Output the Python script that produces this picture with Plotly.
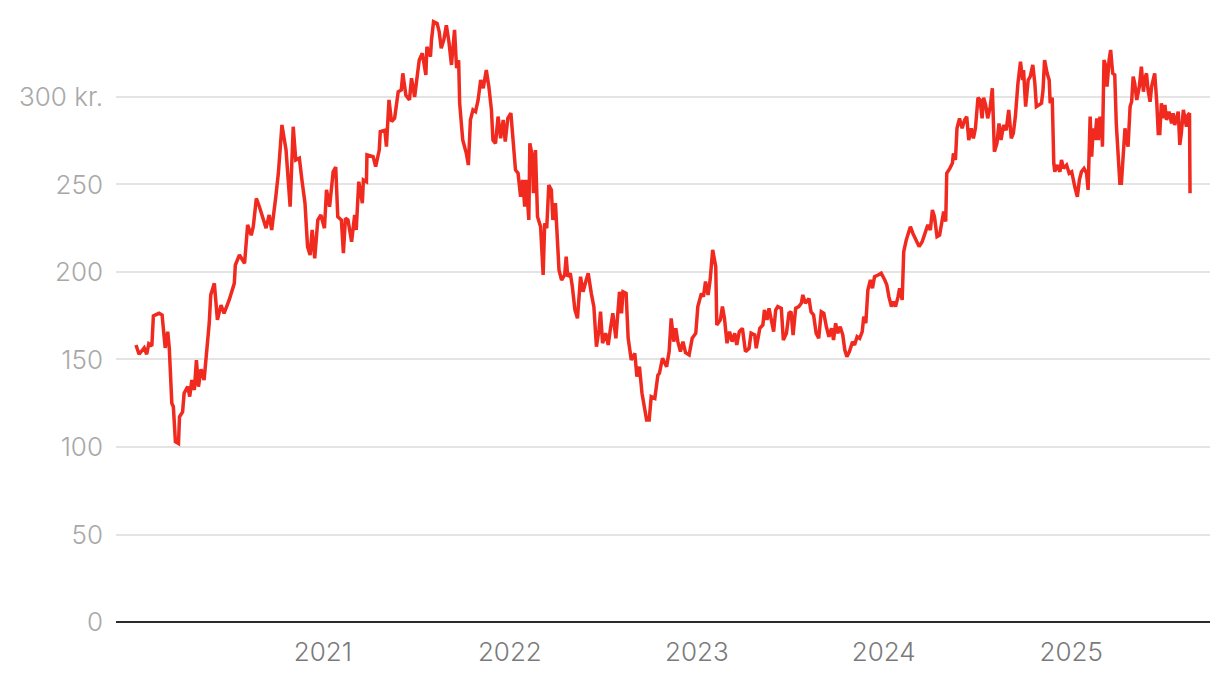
import plotly.graph_objects as go

# ---- data ----
dates_2020 = ["2020-01-02","2020-01-08","2020-01-18","2020-01-23","2020-01-27","2020-02-02","2020-02-05","2020-02-16",
    "2020-02-22","2020-02-28","2020-03-04","2020-03-07","2020-03-12","2020-03-15","2020-03-19","2020-03-25","2020-03-27",
    "2020-04-02","2020-04-05","2020-04-12","2020-04-16","2020-04-20","2020-04-25","2020-04-29","2020-05-03","2020-05-08",
    "2020-05-14","2020-05-24","2020-05-27","2020-06-03","2020-06-09","2020-06-16","2020-06-22","2020-07-02","2020-07-12",
    "2020-07-14","2020-07-22","2020-08-01","2020-08-07","2020-08-14","2020-08-18","2020-08-24","2020-08-30","2020-09-05",
    "2020-09-12","2020-09-18","2020-09-23","2020-10-01","2020-10-06","2020-10-13","2020-10-21","2020-10-29","2020-11-04",
    "2020-11-09","2020-11-16","2020-11-21","2020-11-27","2020-12-02","2020-12-07","2020-12-11","2020-12-16","2020-12-22",
    "2020-12-28"]
values_2020 = [158.3,153,156.6,153,159,157.7,174.9,176.4,175.4,156.6,165.9,156.6,125,123,103,102,117.3,120,130.7,134.5,
    128.8,138.3,132.6,149.7,134.5,144.4,138.3,170.7,186.9,193.5,172.6,181.1,176.4,184,193.5,204,209.7,205,226.9,221,225.9,
    242,237.3,231.6,225,232.6,224,243,256.4,284,269.7,237.3,283,264,265,252.6,239.3,214.5,209.7,224,207.8,229.7,232.6]

dates_2021 = ["2021-01-04","2021-01-08","2021-01-14","2021-01-21","2021-01-26","2021-01-30","2021-02-06","2021-02-10",
    "2021-02-14","2021-02-19","2021-02-26","2021-03-04","2021-03-07","2021-03-12","2021-03-19","2021-03-21","2021-03-27",
    "2021-03-28","2021-04-09","2021-04-14","2021-04-21","2021-04-23","2021-05-02","2021-05-05","2021-05-10","2021-05-15",
    "2021-05-21","2021-05-28","2021-06-03","2021-06-06","2021-06-12","2021-06-19","2021-06-23","2021-06-29","2021-07-08",
    "2021-07-14","2021-07-21","2021-07-23","2021-07-30","2021-08-01","2021-08-05","2021-08-12","2021-08-16","2021-08-20",
    "2021-08-25","2021-08-30","2021-09-04","2021-09-09","2021-09-15","2021-09-19","2021-09-23","2021-09-25","2021-10-01",
    "2021-10-08","2021-10-12","2021-10-16","2021-10-21","2021-10-26","2021-10-31","2021-11-05","2021-11-10","2021-11-16",
    "2021-11-21","2021-11-26","2021-11-29","2021-12-04","2021-12-09","2021-12-14","2021-12-19","2021-12-23","2021-12-28"]
values_2021 = [225,246.9,237.3,257.3,260,231.6,229.7,210.7,230.7,229.7,217.3,232.6,224,251.6,239.3,252.6,251.6,266.9,
    265.9,260.2,269.7,280.2,281,271.6,298.3,285.9,287.8,303,304,313.5,301,298.3,310.7,300,321,325,312.6,328.7,323,332.6,
    343,342,337.3,327.8,332.6,341,331.6,318.3,338.3,316.4,321,296.4,275.4,267.8,261.1,286.9,292.6,291.6,298.3,309.7,305,
    315.4,305.9,292.6,275.4,273.5,288.8,276.4,286.9,274.5,287.8]

dates_2022 = ["2022-01-03","2022-01-07","2022-01-12","2022-01-17","2022-01-22","2022-01-26","2022-01-30","2022-02-02",
    "2022-02-07","2022-02-09","2022-02-14","2022-02-16","2022-02-20","2022-02-24","2022-03-02","2022-03-07","2022-03-10",
    "2022-03-14","2022-03-18","2022-03-23","2022-03-26","2022-03-31","2022-04-03","2022-04-07","2022-04-12","2022-04-18",
    "2022-04-21","2022-04-24","2022-04-29","2022-05-03","2022-05-08","2022-05-13","2022-05-19","2022-05-24","2022-05-30",
    "2022-06-03","2022-06-09","2022-06-14","2022-06-19","2022-06-24","2022-06-27","2022-07-01","2022-07-07","2022-07-12",
    "2022-07-16","2022-07-21","2022-07-27","2022-07-31","2022-08-03","2022-08-07","2022-08-10","2022-08-16","2022-08-20",
    "2022-08-26","2022-09-02","2022-09-06","2022-09-11","2022-09-16","2022-09-21","2022-09-25","2022-09-30","2022-10-04",
    "2022-10-11","2022-10-17","2022-10-20","2022-10-26","2022-11-03","2022-11-08","2022-11-12","2022-11-17","2022-11-21",
    "2022-11-25","2022-11-30","2022-12-05","2022-12-10","2022-12-17","2022-12-23","2022-12-30"]
values_2022 = [290.7,276.4,258.3,256.4,243,252.6,237.3,252.6,229.7,273.5,265.9,245,269.7,231.6,225.9,198.3,227.8,225,
    249.7,246.9,229.7,239.3,224,201,195.4,198.3,208.8,197.3,199.3,191.6,178.3,173.5,197.3,188.7,195.4,199.3,187.8,180.2,
    157.3,166.9,177.3,159.3,165,158.3,166.9,176.4,162.1,180.2,188.7,176.4,188.7,187.8,162.1,149.7,153.5,140.2,145.9,130.7,
    121.1,115.4,115.4,128.8,127.8,141,142.1,150.7,145.9,154.5,173.5,160.2,167.8,160.2,154.5,160.2,153.9,152.6,162.1,165]

dates_2023 = ["2023-01-03","2023-01-10","2023-01-14","2023-01-18","2023-01-23","2023-01-27","2023-02-01","2023-02-07",
    "2023-02-09","2023-02-16","2023-02-20","2023-02-24","2023-03-01","2023-03-06","2023-03-11","2023-03-16","2023-03-20",
    "2023-03-25","2023-03-31","2023-04-06","2023-04-13","2023-04-17","2023-04-24","2023-04-27","2023-05-04","2023-05-10",
    "2023-05-13","2023-05-18","2023-05-22","2023-05-26","2023-05-31","2023-06-04","2023-06-08","2023-06-15","2023-06-19",
    "2023-06-25","2023-06-30","2023-07-04","2023-07-08","2023-07-13","2023-07-19","2023-07-24","2023-07-27","2023-08-01",
    "2023-08-08","2023-08-12","2023-08-17","2023-08-22","2023-08-27","2023-09-01","2023-09-06","2023-09-11","2023-09-16",
    "2023-09-21","2023-09-25","2023-09-29","2023-10-03","2023-10-08","2023-10-13","2023-10-17","2023-10-21","2023-10-26",
    "2023-11-01","2023-11-05","2023-11-10","2023-11-15","2023-11-20","2023-11-23","2023-11-27","2023-12-01","2023-12-06",
    "2023-12-10","2023-12-14","2023-12-21","2023-12-27"]
values_2023 = [180.2,187.8,185.9,194.5,186.9,195.4,212.6,203,169.7,172.6,180.2,173.5,159.3,165.9,160.2,165,158.3,165.9,
    167.8,154.5,156.4,165,164,156.4,167.8,169.7,178.3,172.6,179.2,173.5,165.9,178.3,180.2,179.2,161.1,165,176.4,177.3,164,
    179.2,180.2,182.1,186.9,182.1,184.9,177.3,175.4,165,162.1,177.3,176.4,168.7,163,167.8,161.1,170.7,165,168.7,164,155.4,
    151.6,154.5,160.2,158.3,163,162.1,165.9,174.5,170.7,189.7,195.4,190.7,197.3,198.3,199.3]

dates_2024 = ["2024-01-03","2024-01-07","2024-01-11","2024-01-16","2024-01-20","2024-01-24","2024-01-29","2024-02-01",
    "2024-02-06","2024-02-09","2024-02-14","2024-02-17","2024-02-22","2024-02-27","2024-03-04","2024-03-10","2024-03-16",
    "2024-03-21","2024-03-27","2024-04-01","2024-04-05","2024-04-09","2024-04-14","2024-04-19","2024-04-24","2024-04-27",
    "2024-05-01","2024-05-03","2024-05-09","2024-05-14","2024-05-16","2024-05-20","2024-05-23","2024-05-28","2024-06-02",
    "2024-06-07","2024-06-11","2024-06-15","2024-06-20","2024-06-24","2024-06-28","2024-07-03","2024-07-07","2024-07-11",
    "2024-07-14","2024-07-18","2024-07-22","2024-07-27","2024-07-31","2024-08-04","2024-08-09","2024-08-13","2024-08-17",
    "2024-08-22","2024-08-27","2024-09-01","2024-09-06","2024-09-10","2024-09-14","2024-09-19","2024-09-24","2024-09-28",
    "2024-09-30","2024-10-04","2024-10-09","2024-10-13","2024-10-18","2024-10-22","2024-10-25","2024-10-30","2024-11-04",
    "2024-11-07","2024-11-10","2024-11-15","2024-11-19","2024-11-21","2024-11-25","2024-11-28","2024-11-30","2024-12-04",
    "2024-12-10","2024-12-13","2024-12-17","2024-12-23","2024-12-28"]
values_2024 = [195.4,192.6,185.9,180.2,183,180.2,185.9,190.7,184,211.6,218.3,221.1,225.9,222,217.8,214.5,217.3,222.1,
    226.9,224,235.4,231.6,220.2,221.1,228.8,234.5,228.8,256.4,259.2,262.1,267.8,264,282.1,287.8,282.1,286.9,288.8,275.4,
    282.1,276.4,282.1,299.6,298.3,287.8,299.6,295.4,287.8,294.5,305,268.7,273.5,284.9,275.4,284,281,292.6,276.4,279.2,
    288.8,307.8,320.2,309.7,315.4,294.5,309.7,311.6,318.3,307.8,294.5,295.4,296.4,304,321.1,313.5,309.7,296.4,299.6,262.1,
    257.3,261.1,257.3,264,259.2,261.1,256.4]

dates_2025 = ["2025-01-02","2025-01-05","2025-01-08","2025-01-13","2025-01-17","2025-01-21","2025-01-26","2025-01-31",
    "2025-02-03","2025-02-07","2025-02-10","2025-02-13","2025-02-16","2025-02-20","2025-02-23","2025-02-26","2025-03-01",
    "2025-03-03","2025-03-06","2025-03-10","2025-03-12","2025-03-16","2025-03-19","2025-03-23","2025-03-27","2025-03-30",
    "2025-04-03","2025-04-06","2025-04-09","2025-04-12","2025-04-16","2025-04-19","2025-04-22","2025-04-26","2025-04-29",
    "2025-05-02","2025-05-05","2025-05-09","2025-05-14","2025-05-18","2025-05-22","2025-05-25","2025-05-28","2025-05-31",
    "2025-06-04","2025-06-07","2025-06-11","2025-06-13","2025-06-17","2025-06-20","2025-06-23","2025-06-26","2025-06-30",
    "2025-07-03","2025-07-06","2025-07-11","2025-07-16","2025-07-19","2025-07-22","2025-07-26","2025-07-29","2025-08-01",
    "2025-08-04","2025-08-08","2025-08-11","2025-08-14","2025-08-17","2025-08-20","2025-08-21"]
values_2025 = [257.3,252.6,248.7,243,252.6,257.3,259.2,256.4,246.9,288.8,265.9,282.1,275.4,287.8,275.4,287.8,287.8,271.6,
    321.1,317.3,305.9,321.1,326.9,313.5,312.6,284.9,265.9,250.7,250.7,264,282.1,275.4,271.6,294.5,297.3,311.6,307.8,298.3,
    305.9,317.3,303,310.7,313.5,304,297.3,305.9,311.6,313.5,297.3,279.2,279.2,296.4,287.8,295.4,286.9,291.6,284.9,290.7,
    284,289.7,291.6,272.6,279.2,292.6,286.9,283,289.7,290.7,245]

dates = dates_2020 + dates_2021 + dates_2022 + dates_2023 + dates_2024 + dates_2025
values = values_2020 + values_2021 + values_2022 + values_2023 + values_2024 + values_2025

y_tickvals = [0, 50, 100, 150, 200, 250, 300]
y_ticktext = ["0", "50", "100", "150", "200", "250", "300 kr."]
x_tickvals = ["2021-01-01", "2022-01-01", "2023-01-01", "2024-01-01", "2025-01-01"]
x_ticktext = ["2021", "2022", "2023", "2024", "2025"]

fig = go.Figure()
fig.add_trace(go.Scatter(x=dates, y=values, mode="lines",
                         line=dict(color="#f12a20", width=3.5), hoverinfo="skip"))

# the page body adds an 8px margin, so the figure is sized/margined to compensate
fig.update_layout(
    width=1212, height=670,
    margin=dict(l=108, r=10, t=2, b=56),
    paper_bgcolor="white", plot_bgcolor="white",
    showlegend=False,
    font=dict(family="Inter, Lato, sans-serif", size=26),
)
fig.update_xaxes(
    type="date", range=["2019-11-24", "2025-09-29"], automargin=False,
    tickvals=x_tickvals, ticktext=x_ticktext,
    showgrid=False, zeroline=False, showline=False, ticks="",
    tickfont=dict(color="#7a7a7a", size=26, weight=300), ticklabelstandoff=12,
)
fig.update_yaxes(
    range=[0, 349.7], automargin=False,
    tickvals=y_tickvals, ticktext=y_ticktext,
    showgrid=True, gridcolor="#e4e4e4", gridwidth=1.5,
    zeroline=True, zerolinecolor="#2b2b2b", zerolinewidth=2,
    showline=False, ticks="",
    tickfont=dict(color="#a8a8a8", size=26, weight=300), ticklabelstandoff=12,
)

fig.write_html("out.html")
